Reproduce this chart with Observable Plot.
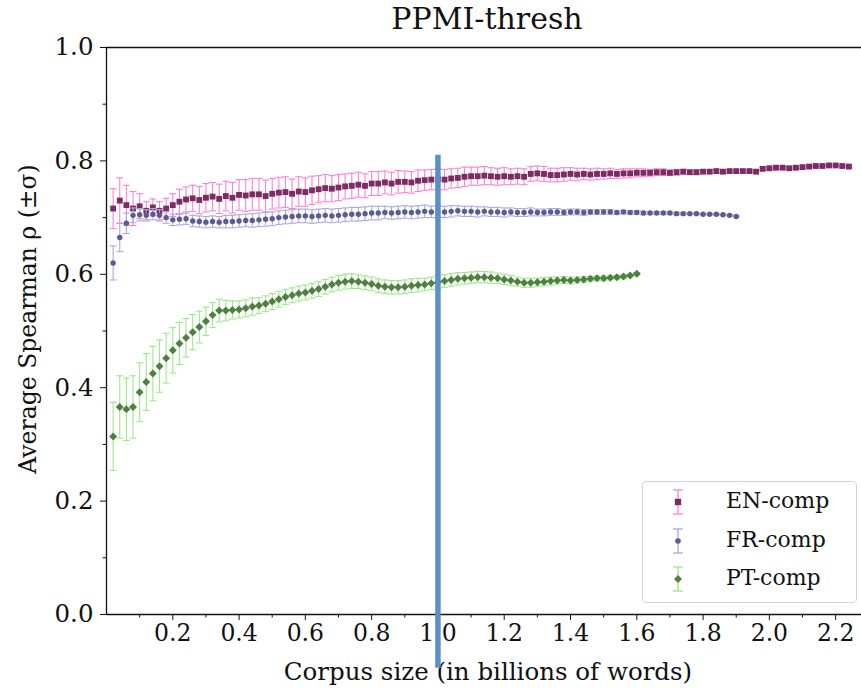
<!DOCTYPE html>
<html>
<head>
<meta charset="utf-8">
<script src="https://cdn.jsdelivr.net/npm/d3@7"></script>
<script src="https://cdn.jsdelivr.net/npm/@observablehq/plot@0.6"></script>
<style>
  html, body { margin: 0; padding: 0; background: white; overflow: hidden; }
  #wrap { position: relative; width: 861px; height: 688px; font-family: "DejaVu Serif", serif; }
  #title { position: absolute; top: 1px; left: 487px; transform: translateX(-50%); font-size: 30px; white-space: nowrap; color: #111; }
  #legend { position: absolute; left: 642px; top: 481px; width: 213px; height: 120px; border: 1px solid #d4d4d4; border-radius: 4px; background: rgba(255,255,255,0.85); }
  .row { position: absolute; left: 0; height: 36px; width: 213px; }
  .row svg { position: absolute; left: 21px; top: 0; }
  .row span { position: absolute; left: 83px; top: 3px; font-size: 22px; color: #111; white-space: nowrap; }
</style>
</head>
<body>
<div id="wrap">
  <div id="chart"></div>
  <div id="title">PPMI-thresh</div>
  <div id="legend"></div>
</div>
<script>
// ---- data ----
const step = 0.02; // corpus size increment (billions of words)
const seriesNames = ["EN-comp", "FR-comp", "PT-comp"];
const xLabel = ["Corpus size (in billions of words)"];
const yLabel = ["Average Spearman ρ (±σ)"];

const enMean = [0.716,0.730,0.722,0.716,0.720,0.712,0.718,0.712,0.716,0.722,
0.728,0.732,0.734,0.731,0.735,0.737,0.733,0.738,0.735,0.740,
0.739,0.741,0.741,0.738,0.742,0.744,0.745,0.742,0.746,0.745,
0.748,0.750,0.752,0.751,0.753,0.755,0.756,0.758,0.756,0.760,
0.760,0.762,0.760,0.763,0.763,0.762,0.765,0.766,0.767,0.768,
0.767,0.769,0.770,0.772,0.773,0.773,0.774,0.773,0.772,0.773,
0.772,0.773,0.772,0.777,0.778,0.777,0.775,0.775,0.776,0.777,
0.776,0.777,0.776,0.777,0.777,0.778,0.777,0.778,0.778,0.779,
0.779,0.779,0.780,0.780,0.779,0.780,0.781,0.780,0.780,0.781,
0.781,0.782,0.781,0.782,0.782,0.782,0.782,0.781,0.786,0.787,
0.788,0.788,0.787,0.788,0.789,0.790,0.791,0.791,0.792,0.792,
0.791,0.790];
const enSd = [0.035,0.040,0.035,0.030,0.022,0.016,0.015,0.016,0.018,0.020,
0.022,0.022,0.023,0.024,0.025,0.025,0.026,0.026,0.027,0.027,
0.028,0.028,0.028,0.028,0.027,0.027,0.027,0.026,0.026,0.025,
0.025,0.024,0.024,0.023,0.023,0.022,0.022,0.022,0.021,0.021,
0.021,0.020,0.020,0.020,0.019,0.019,0.019,0.018,0.018,0.018,
0.018,0.017,0.017,0.017,0.016,0.016,0.016,0.015,0.015,0.015,
0.014,0.014,0.014,0.013,0.013,0.013,0.012,0.012,0.012,0.011,
0.011,0.010,0.010,0.010,0.009,0.009,0.008,0.008,0.008,0.007,
0.007,0.006,0.006,0.006,0.005,0.005,0.004,0.004,0.004,0.003,
0.003,0.003,0.003,0.002,0.002,0.002,0.002,0.002,0.002,0.002,
0.002,0.002,0.002,0.002,0.002,0.001,0.001,0.001,0.001,0.001,
0.001,0.001];

const frMean = [0.620,0.665,0.690,0.704,0.705,0.704,0.706,0.704,0.700,0.696,
0.697,0.698,0.694,0.693,0.692,0.693,0.692,0.693,0.693,0.694,
0.695,0.695,0.696,0.697,0.698,0.700,0.701,0.702,0.703,0.703,
0.702,0.703,0.704,0.703,0.704,0.705,0.706,0.706,0.707,0.708,
0.708,0.709,0.708,0.709,0.710,0.709,0.710,0.711,0.710,0.711,
0.710,0.711,0.712,0.711,0.711,0.710,0.711,0.710,0.710,0.709,
0.710,0.709,0.709,0.710,0.709,0.709,0.710,0.710,0.709,0.710,
0.710,0.709,0.710,0.710,0.710,0.710,0.709,0.710,0.709,0.709,
0.708,0.708,0.708,0.708,0.708,0.707,0.707,0.707,0.707,0.706,
0.706,0.706,0.705,0.704,0.702];
const frSd = [0.030,0.025,0.018,0.013,0.011,0.010,0.010,0.010,0.010,0.010,
0.010,0.010,0.010,0.010,0.010,0.010,0.010,0.011,0.011,0.011,
0.011,0.012,0.012,0.012,0.012,0.012,0.012,0.012,0.012,0.012,
0.012,0.012,0.012,0.012,0.012,0.012,0.012,0.012,0.012,0.012,
0.012,0.011,0.011,0.011,0.011,0.011,0.011,0.011,0.010,0.010,
0.010,0.010,0.009,0.009,0.009,0.009,0.008,0.008,0.008,0.008,
0.007,0.007,0.007,0.007,0.006,0.006,0.006,0.006,0.005,0.005,
0.005,0.005,0.004,0.004,0.004,0.004,0.003,0.003,0.003,0.003,
0.003,0.002,0.002,0.002,0.002,0.002,0.002,0.001,0.001,0.001,
0.001,0.001,0.001,0.001,0.001];

const ptMean = [0.314,0.366,0.362,0.366,0.392,0.410,0.425,0.438,0.452,0.466,
0.478,0.488,0.498,0.507,0.517,0.528,0.536,0.536,0.537,0.538,
0.540,0.543,0.545,0.548,0.552,0.556,0.560,0.563,0.566,0.568,
0.571,0.574,0.578,0.582,0.585,0.587,0.588,0.587,0.585,0.583,
0.580,0.578,0.577,0.577,0.578,0.580,0.581,0.582,0.584,0.586,
0.588,0.590,0.592,0.593,0.594,0.595,0.595,0.594,0.593,0.591,
0.589,0.587,0.585,0.585,0.586,0.587,0.588,0.589,0.590,0.589,
0.590,0.591,0.592,0.593,0.593,0.594,0.595,0.596,0.598,0.601];
const ptSd = [0.060,0.055,0.055,0.055,0.052,0.050,0.048,0.046,0.044,0.040,
0.037,0.034,0.031,0.028,0.025,0.022,0.020,0.018,0.016,0.015,
0.015,0.015,0.014,0.014,0.014,0.014,0.013,0.013,0.013,0.013,
0.013,0.013,0.013,0.013,0.013,0.013,0.013,0.012,0.012,0.012,
0.012,0.012,0.012,0.012,0.012,0.012,0.012,0.011,0.011,0.011,
0.011,0.011,0.011,0.010,0.010,0.010,0.010,0.010,0.009,0.009,
0.009,0.008,0.008,0.008,0.007,0.007,0.007,0.006,0.006,0.006,
0.005,0.005,0.004,0.004,0.004,0.003,0.003,0.003,0.002,0.002];

const xMajor = [0.2,0.4,0.6,0.8,1.0,1.2,1.4,1.6,1.8,2.0,2.2];
const xMinor = [0.1,0.3,0.5,0.7,0.9,1.1,1.3,1.5,1.7,1.9,2.1];
const yMajor = [0.0,0.2,0.4,0.6,0.8,1.0];
const yMinor = [0.1,0.3,0.5,0.7,0.9];
const markerLine = [1.0];          // highlighted corpus size
const markerLineSpan = [0.81, -0.095];

// ---- styles ----
const styles = {
  "EN-comp": {symbol: "square",   r: 3.3, fill: "#7b2c62", err: "#ff80d2"},
  "FR-comp": {symbol: "circle",   r: 2.7, fill: "#5b5b8e", err: "#a9a9e3"},
  "PT-comp": {symbol: "diamond2", r: 3.6, fill: "#4e8040", err: "#9de88a"}
};

function rows(mean, sd) {
  return mean.map((m, i) => ({x: +(step * (i + 1)).toFixed(2), m, lo: m - sd[i], hi: m + sd[i]}));
}
const data = {
  "EN-comp": rows(enMean, enSd),
  "FR-comp": rows(frMean, frSd),
  "PT-comp": rows(ptMean, ptSd)
};

const cap = { draw(ctx, size) { const r = Math.sqrt(size / Math.PI); ctx.moveTo(-r, 0); ctx.lineTo(r, 0); } };

const seriesMarks = seriesNames.flatMap(name => {
  const s = styles[name], d = data[name];
  return [
    Plot.ruleX(d, {x: "x", y1: "lo", y2: "hi", stroke: s.err, strokeWidth: 1.1}),
    Plot.dot(d, {x: "x", y: "lo", symbol: cap, r: 3.5, fill: "none", stroke: s.err, strokeWidth: 1.1}),
    Plot.dot(d, {x: "x", y: "hi", symbol: cap, r: 3.5, fill: "none", stroke: s.err, strokeWidth: 1.1}),
    Plot.dot(d, {x: "x", y: "m", symbol: s.symbol, r: s.r, fill: s.fill, stroke: "none"})
  ];
});

const chart = Plot.plot({
  width: 861, height: 688,
  marginTop: 47, marginLeft: 106, marginRight: 0, marginBottom: 74,
  x: {domain: [0, 2.278]},
  y: {domain: [0, 1]},
  style: {fontFamily: "DejaVu Serif", fontSize: "23px", background: "white", color: "#111", overflow: "visible"},
  marks: [
    Plot.axisX({ticks: xMajor, tickFormat: d3.format(".1f"), tickSize: 6, tickPadding: 4, fontSize: 23.5, label: null}),
    Plot.axisX({ticks: xMinor, tickSize: 3.5, tickFormat: () => "", label: null}),
    Plot.axisY({ticks: yMajor, tickFormat: d3.format(".1f"), tickSize: 6, tickPadding: 7, fontSize: 24.5, label: null}),
    Plot.axisY({ticks: yMinor, tickSize: 3.5, tickFormat: () => "", label: null}),
    Plot.text(xLabel, {text: d => d, frameAnchor: "bottom", lineAnchor: "middle", dy: 58, dx: 4, fontSize: 24.5, fill: "#111"}),
    Plot.text(yLabel, {text: d => d, frameAnchor: "left", textAnchor: "middle", lineAnchor: "middle", rotate: -90, dx: -78, dy: -12, fontSize: 23.5, fill: "#111"}),
    Plot.ruleX([0], {stroke: "#111", strokeWidth: 1.3}),
    Plot.ruleY([0, 1], {stroke: "#111", strokeWidth: 1.3}),
    ...seriesMarks,
    Plot.ruleX(markerLine, {y1: markerLineSpan[0], y2: markerLineSpan[1], stroke: "#5a8fc9", strokeWidth: 5.5})
  ]
});
document.getElementById("chart").appendChild(chart);

// ---- legend ----
const legend = document.getElementById("legend");
const markerPath = {
  "square":   '<rect x="-3.2" y="-3.2" width="6.4" height="6.4"/>',
  "circle":   '<circle r="2.8"/>',
  "diamond2": '<path d="M0,-4 L4,0 L0,4 L-4,0 Z"/>'
};
seriesNames.forEach((name, i) => {
  const s = styles[name];
  const row = document.createElement("div");
  row.className = "row";
  row.style.top = (3 + i * 38.5) + "px";
  row.innerHTML = `<svg width="28" height="34" viewBox="-14 -17 28 34">
      <g stroke="${s.err}" stroke-width="1.3" fill="none">
        <line x1="0" y1="-12" x2="0" y2="12"/><line x1="-5" y1="-12" x2="5" y2="-12"/><line x1="-5" y1="12" x2="5" y2="12"/>
      </g>
      <g fill="${s.fill}">${markerPath[s.symbol]}</g>
    </svg><span>${name}</span>`;
  legend.appendChild(row);
});
</script>
</body>
</html>
